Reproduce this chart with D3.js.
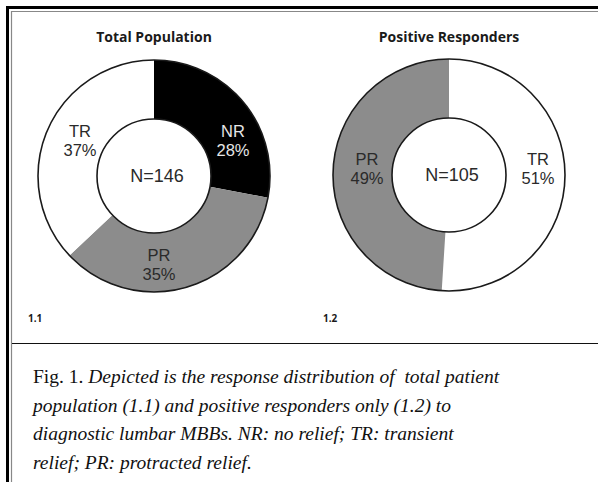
<!DOCTYPE html>
<html><head><meta charset="utf-8">
<script src="https://cdn.jsdelivr.net/npm/d3@7"></script>
<style>body{margin:0;background:#fff}svg{display:block}</style>
</head><body>
<script>
const titles = ["Total Population", "Positive Responders"];
const panelTags = ["1.1", "1.2"];
const totalCats = ["NR", "PR", "TR"];
const totalVals = [28, 35, 37];
const totalN = 146;
const posCats = ["TR", "PR"];
const posVals = [51, 49];
const posN = 105;
const captionLines = [
  [["Fig. 1. ", false], ["Depicted is the response distribution of  total patient", true]],
  [["population (1.1) and positive responders only (1.2) to", true]],
  [["diagnostic lumbar MBBs. NR: no relief; TR: transient", true]],
  [["relief; PR: protracted relief.", true]]
];

const W = 598, H = 482;
const svg = d3.select("body").append("svg").attr("width", W).attr("height", H);

const fill = d3.scaleOrdinal().domain(["NR", "PR", "TR"]).range(["#000000", "#8c8c8c", "#ffffff"]);
const txtCol = d3.scaleOrdinal().domain(["NR", "PR", "TR"]).range(["#e6e6e6", "#2a2a2a", "#2a2a2a"]);

// frame
svg.append("line").attr("x1", 7.5).attr("x2", 7.5).attr("y1", 6).attr("y2", H).attr("stroke", "#000").attr("stroke-width", 3);
svg.append("line").attr("x1", 6).attr("x2", W).attr("y1", 7.5).attr("y2", 7.5).attr("stroke", "#000").attr("stroke-width", 3);
svg.append("line").attr("x1", 11.5).attr("x2", 11.5).attr("y1", 11).attr("y2", H).attr("stroke", "#888").attr("stroke-width", 1.2);
svg.append("line").attr("x1", 11).attr("x2", W).attr("y1", 11.5).attr("y2", 11.5).attr("stroke", "#888").attr("stroke-width", 1.2);
svg.append("line").attr("x1", 12).attr("x2", W).attr("y1", 343.5).attr("y2", 343.5).attr("stroke", "#111").attr("stroke-width", 1);

function donut(cx, cy, cats, vals, N, title, tag, labelPos) {
  const g = svg.append("g").attr("transform", `translate(${cx},${cy})`);
  const rO = 116, rI = 57;
  const data = cats.map((c, i) => ({cat: c, val: vals[i]}));
  const pie = d3.pie().sort(null).value(d => d.val);
  const arcs = pie(data);
  const arc = d3.arc().innerRadius(rI).outerRadius(rO);
  g.selectAll("path.seg").data(arcs).join("path").attr("class", "seg")
    .attr("d", arc).attr("fill", d => fill(d.data.cat)).attr("stroke", "none");
  g.append("circle").attr("r", rO).attr("fill", "none").attr("stroke", "#1a1a1a").attr("stroke-width", 1.6);
  g.append("circle").attr("r", rI).attr("fill", "#fff").attr("stroke", "#1a1a1a").attr("stroke-width", 1.6);
  const labArc = d3.arc().innerRadius(rI).outerRadius(rO);
  arcs.forEach((a, i) => {
    const [lx, ly] = labelPos ? labelPos[i] : labArc.centroid(a);
    const t = g.append("text").attr("x", lx).attr("y", ly)
      .attr("text-anchor", "middle")
      .attr("font-family", "Liberation Sans, Arial, sans-serif").attr("font-size", 16.5)
      .attr("fill", txtCol(a.data.cat));
    t.append("tspan").attr("x", lx).attr("dy", 0).text(a.data.cat);
    t.append("tspan").attr("x", lx).attr("dy", 18.5).text(a.data.val + "%");
  });
  g.append("text").attr("x", 3).attr("y", 6).attr("text-anchor", "middle")
    .attr("font-family", "Liberation Sans, Arial, sans-serif").attr("font-size", 18)
    .attr("fill", "#2a2a2a").text("N=" + N);
  svg.append("text").attr("x", cx).attr("y", 42).attr("text-anchor", "middle")
    .attr("font-family", "Open Sans, sans-serif").attr("font-weight", "bold").attr("font-size", 14)
    .attr("fill", "#1a1a1a").text(title);
  svg.append("text").attr("x", cx - 126).attr("y", 322)
    .attr("font-family", "Open Sans, sans-serif").attr("font-weight", "bold").attr("font-size", 10)
    .attr("fill", "#1a1a1a").text(tag);
}

donut(154, 176, totalCats, totalVals, totalN, titles[0], panelTags[0], [[79, -39], [5, 85], [-74, -39]]);
donut(449, 175, posCats, posVals, posN, titles[1], panelTags[1], [[89, -10], [-82, -10]]);

const cap = svg.append("g");
captionLines.forEach((line, i) => {
  const t = cap.append("text").attr("x", 33).attr("y", 383 + i * 28.5)
    .attr("font-family", "Liberation Serif, Times New Roman, serif").attr("font-size", 19.5).attr("fill", "#111");
  line.forEach(([s, it]) => t.append("tspan").attr("font-style", it ? "italic" : "normal").attr("xml:space", "preserve").text(s));
});
</script>
</body></html>
